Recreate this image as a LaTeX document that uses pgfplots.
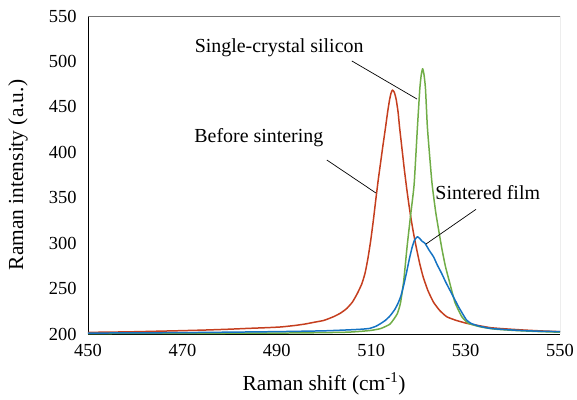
\documentclass[border=0pt]{standalone}
\usepackage{pgfplots}
\pgfplotsset{compat=1.18}
\usepackage{fontspec}
\setmainfont{Liberation Serif}
\definecolor{cred}{RGB}{197,62,30}
\definecolor{cgreen}{RGB}{112,173,71}
\definecolor{cblue}{RGB}{20,115,195}
\begin{document}
\begin{tikzpicture}
\useasboundingbox (-88bp,-66bp) rectangle (489bp,334bp);
\begin{axis}[
  at={(0,0)}, anchor=south west,
  scale only axis, width=472bp, height=318bp,
  xmin=450, xmax=550, ymin=200, ymax=550,
  xtick={450,470,...,550}, ytick={200,250,...,550},
  major tick length=0pt,
  axis x line*=bottom, axis y line*=left,
  axis line style={black, line width=1pt},
  /pgf/number format/assume math mode=true,
  tick label style={font=\fontsize{18.5}{21}\selectfont},
  yticklabel style={anchor=east, xshift=-8bp},
  xticklabel style={anchor=north, yshift=-7bp},
  xlabel={Raman shift (cm\textsuperscript{-1})},
  ylabel={Raman intensity (a.u.)},
  label style={font=\fontsize{21.5}{24}\selectfont},
  x label style={at={(axis description cs:0.5,0)}, anchor=center, yshift=-50bp},
  y label style={at={([xshift=-70bp]axis description cs:0,0.5)}, anchor=center},
  line join=round,
]
\draw[black!55, line width=0.6pt] (rel axis cs:0,1) -- (rel axis cs:1,1) -- (rel axis cs:1,0);
\addplot[cred, line width=1.5pt, smooth, tension=0.3] coordinates {
(450,201.8) (455,202.1) (460,202.5) (465,203.1) (470,203.7) (475,204.4) (480,205.3) (484,206.2) (488,207) (491,207.8) (494,209.5) (496,211) (498,213) (500,215) (502,219) (503.5,223) (504.8,228) (506,235) (507,244) (508,255) (508.7,267) (509.3,283) (509.9,303) (510.5,327) (511.0,349) (511.5,370) (512.0,389) (512.5,408) (513.0,426) (513.5,445) (513.9,458) (514.2,465) (514.5,468.5) (514.9,466) (515.3,458) (515.7,444) (516.0,428) (516.5,405) (517.0,382) (517.5,361) (518.0,342) (518.5,325) (519.0,310) (519.6,294) (520.3,277) (521.0,263) (522.0,248) (523.2,235) (524.5,226) (526.0,219) (528,215) (530.2,211.8) (532.5,209.5) (535.2,207) (538,205.8) (542.2,204.4) (546,203.4) (550,202.6)
};
\addplot[cgreen, line width=1.5pt, smooth, tension=0.3] coordinates {
(450,200.5) (470,200.7) (490,201) (500,201.5) (505,202) (508,203) (510,204) (512,206) (514,211) (515.5,222) (516.2,234) (516.9,259) (517.6,296) (518.4,333) (519.1,365) (519.8,428) (520.3,470) (520.6,485) (520.9,492) (521.2,485) (521.5,470) (521.9,428) (522.4,395) (522.9,365) (523.7,333) (524.9,296) (525.7,275) (526.5,259) (527.2,245) (527.8,234) (529.2,219) (530.6,211.8) (533,208) (536,205.5) (540,204) (545,202.8) (550,202)
};
\addplot[cblue, line width=1.5pt, smooth, tension=0.3] coordinates {
(450,201) (470,201.5) (490,202.6) (500,203.5) (505,204.5) (508,205.3) (509.7,206.2) (511,208.5) (512,211.5) (513,215) (514,220) (515,227) (515.7,234) (516.3,242) (516.9,254) (517.5,268) (518.1,283) (518.7,296) (519.2,303.5) (519.8,307) (520.3,305) (520.8,302) (521.4,299.8) (522.3,292) (523.2,285) (524.0,276) (524.9,267) (525.8,257) (526.7,248) (527.6,239) (528.5,230) (529.4,222) (530.2,215.4) (531.2,211.5) (533,208.5) (535.2,206.2) (538,205) (542.2,203.7) (546,203) (550,202.6)
};
\draw[black, line width=0.7pt] (axis cs:505.9,500.5) -- (axis cs:519.7,458.6);
\draw[black, line width=0.7pt] (axis cs:500.6,391.5) -- (axis cs:511.0,355.2);
\draw[black, line width=0.7pt] (axis cs:532.2,337.2) -- (axis cs:521.6,299);
\node[font=\fontsize{20}{23}\selectfont] at (axis cs:490.5,514.8) {Single-crystal silicon};
\node[font=\fontsize{20}{23}\selectfont] at (axis cs:486.2,415.7) {Before sintering};
\node[font=\fontsize{20}{23}\selectfont] at (axis cs:534.7,355.2) {Sintered film};
\end{axis}
\end{tikzpicture}
\end{document}
